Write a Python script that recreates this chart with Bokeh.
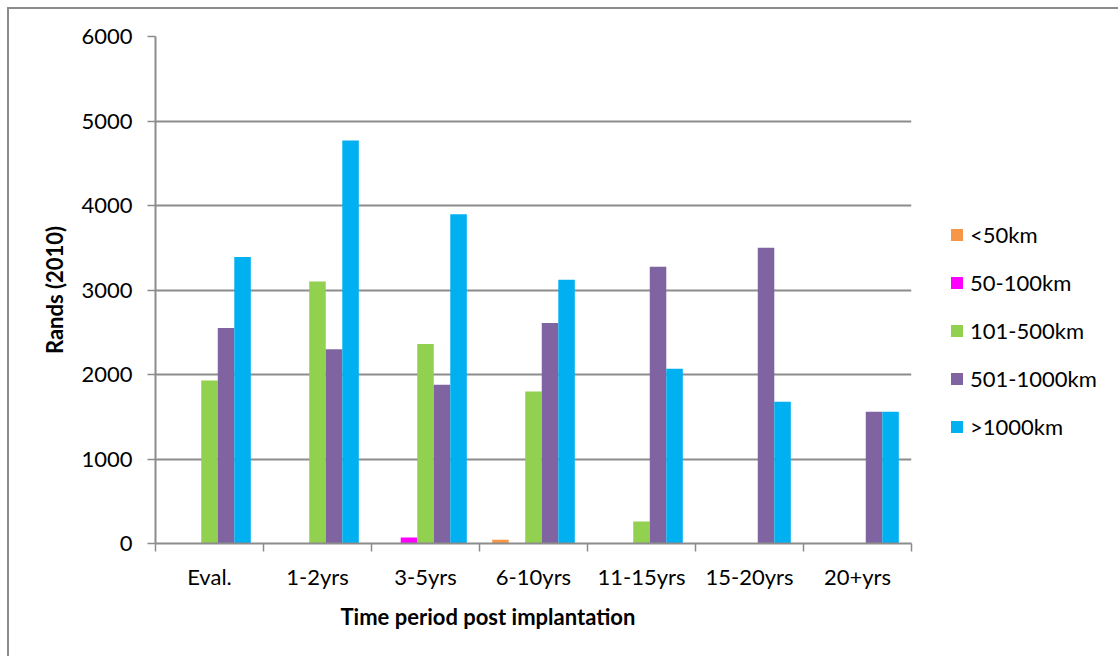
import numpy as np
from bokeh.plotting import figure
from bokeh.models import (ColumnDataSource, FixedTicker, Legend, LegendItem,
                          Range1d, LinearAxis, Grid, Title)
from bokeh.transform import dodge
from bokeh.embed import file_html
from bokeh.resources import INLINE

categories = ["Eval.", "1-2yrs", "3-5yrs", "6-10yrs", "11-15yrs", "15-20yrs", "20+yrs"]
series_names = ["<50km", "50-100km", "101-500km", "501-1000km", ">1000km"]
lt50 = [0, 0, 0, 44, 0, 0, 0]
km50_100 = [0, 0, 71, 0, 0, 0, 0]
km101_500 = [1930, 3100, 2360, 1800, 260, 0, 0]
km501_1000 = [2550, 2300, 1880, 2610, 3275, 3500, 1560]
gt1000 = [3390, 4770, 3895, 3122, 2068, 1678, 1560]
y_ticks = [0, 1000, 2000, 3000, 4000, 5000, 6000]
colors = ["#F79646", "#FF00FF", "#92D050", "#8064A2", "#00B0F0"]

series = [lt50, km50_100, km101_500, km501_1000, gt1000]
FONT = "Lato"
GRID = "#8c8c8c"

xc = [i + 0.5 for i in range(len(categories))]
data = {"x": xc}
for name, vals in zip(series_names, series):
    data[name] = vals
src = ColumnDataSource(data)

p = figure(output_backend="svg", toolbar_location=None,
           frame_width=756, frame_height=507,
           min_border_left=146, min_border_top=27, min_border_right=100,
           min_border_bottom=113,
           x_range=Range1d(0, len(categories)), y_range=Range1d(0, 6000),
           x_axis_type=None, y_axis_type=None)
p.styles = {"margin-left": "7px", "margin-top": "7px",
            "border-left": "2px solid #8c8c8c", "border-top": "2px solid #8c8c8c"}
p.outline_line_color = None
p.background_fill_color = "white"
p.border_fill_color = "white"

bw = 0.153
items = []
for k, (name, col) in enumerate(zip(series_names, colors)):
    r = p.vbar(x=dodge("x", (k - 2) * bw), top=name, bottom=0, width=bw,
               source=src, fill_color=col, line_color=None)
    items.append(LegendItem(label=name, renderers=[r]))

# x axis
xaxis = LinearAxis()
xaxis.ticker = FixedTicker(ticks=xc, minor_ticks=list(range(len(categories) + 1)))
xaxis.major_label_overrides = {c: lab for c, lab in zip(xc, categories)}
xaxis.major_tick_out = 0
xaxis.major_tick_in = 0
xaxis.minor_tick_out = 8
xaxis.minor_tick_in = 0
xaxis.minor_tick_line_color = GRID
xaxis.minor_tick_line_width = 1.5
xaxis.axis_line_color = GRID
xaxis.axis_line_width = 2
xaxis.major_label_standoff = 11
xaxis.major_label_text_font = FONT
xaxis.major_label_text_font_size = "22px"
xaxis.major_label_text_color = "black"
p.add_layout(xaxis, "below")

xtitle = Title(text="Time period post implantation", align="left", offset=185,
               text_font=FONT, text_font_style="bold", text_font_size="22px",
               text_color="black", standoff=16)
p.add_layout(xtitle, "below")

# y axis
yaxis = LinearAxis()
yaxis.ticker = FixedTicker(ticks=y_ticks)
yaxis.major_tick_out = 8
yaxis.major_tick_in = 0
yaxis.minor_tick_line_color = None
yaxis.major_tick_line_color = GRID
yaxis.major_tick_line_width = 1.5
yaxis.axis_line_color = GRID
yaxis.axis_line_width = 2
yaxis.major_label_standoff = 15
yaxis.major_label_text_font = FONT
yaxis.major_label_text_font_size = "22px"
yaxis.major_label_text_color = "black"
yaxis.axis_label = "Rands (2010)"
yaxis.axis_label_text_font = FONT
yaxis.axis_label_text_font_style = "bold"
yaxis.axis_label_text_font_size = "22px"
yaxis.axis_label_text_color = "black"
yaxis.axis_label_standoff = 10
p.add_layout(yaxis, "left")

g = Grid(dimension=1, ticker=yaxis.ticker, grid_line_color=GRID, grid_line_width=2)
p.add_layout(g)

legend = Legend(items=items, location=(38, 103), orientation="vertical",
                glyph_width=15, glyph_height=15, label_height=20, spacing=21,
                padding=0, margin=0, label_standoff=6,
                border_line_color=None, background_fill_alpha=0,
                label_text_font=FONT, label_text_font_size="22px",
                label_text_color="black")
p.add_layout(legend, "right")

open("out.html", "w").write(file_html(p, INLINE))
